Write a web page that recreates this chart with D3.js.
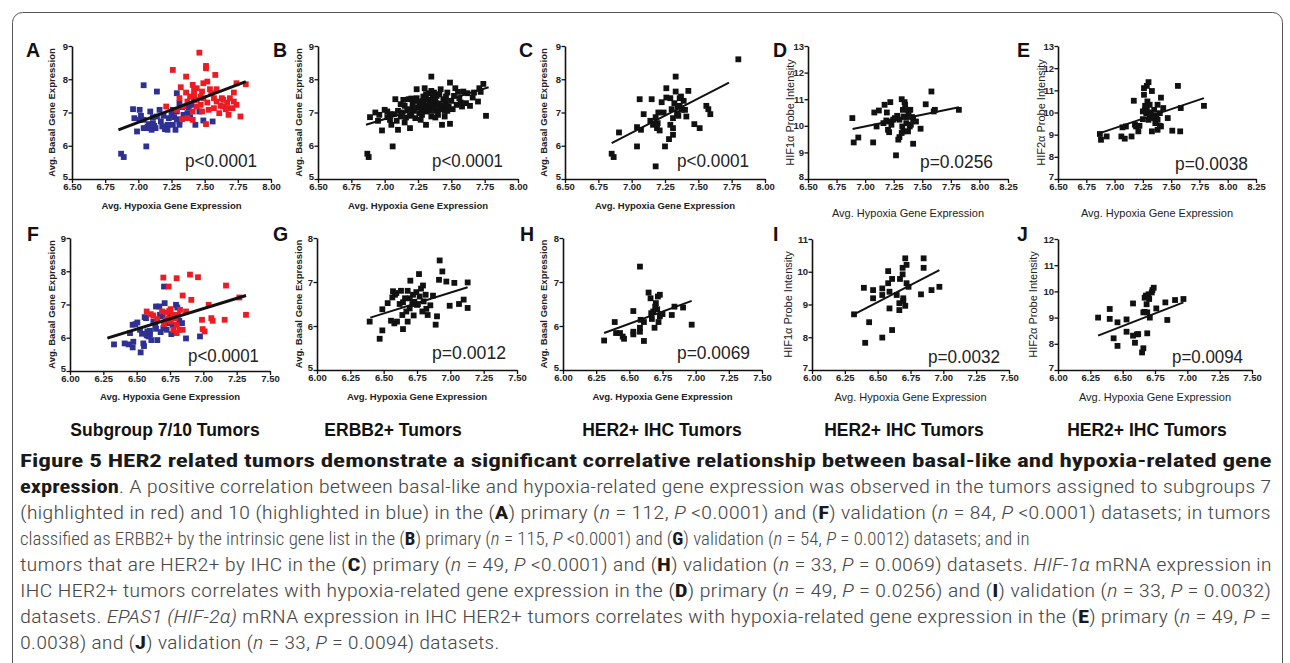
<!DOCTYPE html>
<html>
<head>
<meta charset="utf-8">
<script src="https://cdn.jsdelivr.net/npm/d3@7"></script>
<style>
body { margin: 0; background: #fff; }
svg { display: block; font-family: "Liberation Sans", Arial, sans-serif; }
</style>
</head>
<body>
<svg id="fig" width="1290" height="663"></svg>
<script>
// ---- data ----
var aBlue = [[6.87,5.76],[6.89,5.66],[7.04,7.82],[7.14,7.63],[7.06,5.98],[6.96,7.10],[6.97,6.83],[6.99,6.43],[7.01,7.08],[7.02,6.90],[7.04,6.78],[7.06,6.53],[7.07,6.58],[7.09,7.03],[7.11,6.86],[7.11,6.68],[7.13,6.53],[7.10,6.48],[7.14,6.88],[7.16,7.08],[7.17,6.73],[7.19,6.90],[7.20,6.50],[7.22,6.63],[7.23,6.83],[7.25,6.93],[7.26,7.08],[7.27,6.86],[7.29,6.80],[7.29,7.03],[7.31,6.63],[7.31,7.28],[7.33,7.16],[7.34,6.93],[7.29,7.58],[7.37,6.98],[7.39,6.86],[7.40,7.23],[7.42,7.38],[7.43,6.63],[7.46,7.03],[7.49,6.76],[7.56,6.73],[7.28,6.48],[7.18,6.58],[7.01,6.78],[7.10,6.55],[7.04,6.53],[7.22,6.48],[7.26,6.63],[7.31,6.73],[7.12,6.60],[7.08,6.65],[7.38,7.15]];
var aRed = [[7.46,8.80],[7.26,8.28],[7.51,8.40],[7.51,8.33],[7.36,8.08],[7.58,8.13],[7.32,7.76],[7.36,7.60],[7.41,7.83],[7.42,7.68],[7.44,7.73],[7.48,7.63],[7.49,7.88],[7.52,7.93],[7.54,7.70],[7.47,7.48],[7.39,7.48],[7.42,7.53],[7.44,7.38],[7.49,7.43],[7.52,7.30],[7.55,7.58],[7.57,7.43],[7.59,7.33],[7.62,7.20],[7.64,7.18],[7.67,7.30],[7.71,7.13],[7.74,7.88],[7.72,7.60],[7.74,7.23],[7.72,7.33],[7.66,7.10],[7.63,7.43],[7.77,6.88],[7.51,6.65],[7.37,6.83],[7.41,6.78],[7.33,6.80],[7.29,7.08],[7.34,7.18],[7.21,7.18],[7.44,7.18],[7.48,7.03],[7.53,7.08],[7.57,7.13],[7.61,6.98],[7.67,7.13],[7.37,7.33],[7.31,7.43],[7.64,7.38],[7.59,7.70],[7.69,7.43],[7.81,7.85],[7.68,6.93],[7.47,7.23],[7.41,7.03]];
var bPts = [[6.87,5.76],[6.88,5.66],[7.06,5.98],[6.98,6.46],[6.89,6.86],[6.93,7.00],[6.96,6.93],[7.00,7.08],[7.02,6.86],[7.04,6.78],[7.05,6.63],[7.08,7.40],[7.07,6.95],[7.10,7.05],[7.12,6.88],[7.10,6.48],[7.14,7.38],[7.15,6.70],[7.17,7.10],[7.18,7.40],[7.19,6.53],[7.20,6.95],[7.21,7.28],[7.22,7.05],[7.23,6.83],[7.24,7.70],[7.24,7.43],[7.25,7.15],[7.26,6.98],[7.27,7.33],[7.28,7.10],[7.29,7.48],[7.30,7.73],[7.30,7.20],[7.31,6.63],[7.31,7.03],[7.32,7.38],[7.33,7.58],[7.33,7.13],[7.34,7.28],[7.35,8.08],[7.35,6.88],[7.36,7.45],[7.36,7.20],[7.37,7.60],[7.38,7.05],[7.38,7.35],[7.39,7.50],[7.40,6.93],[7.40,7.25],[7.41,7.55],[7.42,7.70],[7.43,6.63],[7.43,7.15],[7.44,7.40],[7.45,7.05],[7.46,7.28],[7.47,7.60],[7.48,7.18],[7.49,6.66],[7.49,7.90],[7.50,7.35],[7.51,7.10],[7.53,7.73],[7.54,7.23],[7.56,7.43],[7.58,7.18],[7.59,7.63],[7.61,7.28],[7.62,7.58],[7.64,7.20],[7.66,7.45],[7.67,7.60],[7.70,7.33],[7.71,7.73],[7.74,7.86],[7.76,6.90],[7.72,7.62],[7.04,6.95],[7.13,7.00],[7.16,6.85],[7.26,7.25],[7.28,6.93],[7.29,7.35],[7.32,7.20],[7.34,7.05],[7.36,7.35],[7.37,7.15],[7.39,7.28],[7.41,7.10],[7.44,7.22],[7.46,7.48],[7.21,7.15],[7.23,7.35],[7.09,6.75],[7.15,7.20],[7.19,6.90],[7.27,6.78],[7.45,6.88],[7.52,7.50],[7.55,7.62],[7.57,7.30],[7.31,7.55],[7.35,7.65],[7.20,7.42],[7.12,7.25],[7.02,7.03],[6.95,6.75],[7.38,6.85],[7.47,7.05]];
var cPts = [[6.85,5.76],[6.865,5.66],[6.905,6.40],[7.04,5.98],[7.04,6.56],[7.06,7.40],[7.07,6.48],[7.09,6.95],[7.14,6.75],[7.15,7.40],[7.16,6.63],[7.18,6.86],[7.18,5.38],[7.19,6.53],[7.195,6.68],[7.21,6.46],[7.225,7.31],[7.24,7.00],[7.25,5.98],[7.26,7.73],[7.26,7.45],[7.28,6.20],[7.29,6.63],[7.29,7.43],[7.30,7.10],[7.31,6.33],[7.31,6.53],[7.31,6.83],[7.32,7.28],[7.33,8.08],[7.33,7.63],[7.34,6.98],[7.345,7.18],[7.36,7.20],[7.36,7.43],[7.35,6.90],[7.375,7.08],[7.39,7.35],[7.40,7.08],[7.41,6.88],[7.425,7.65],[7.47,6.65],[7.51,6.53],[7.56,7.20],[7.575,7.10],[7.59,6.95],[7.80,8.60],[7.20,7.00],[7.37,7.48]];
var dPts = [[6.888,10.29],[6.90,9.375],[6.94,9.56],[7.07,9.375],[7.08,10.5],[7.10,9.975],[7.12,10.575],[7.17,10.79],[7.185,10.2],[7.19,10.5],[7.21,9.76],[7.22,10.89],[7.23,10.04],[7.21,10.16],[7.26,10.29],[7.27,8.89],[7.28,10.375],[7.30,9.575],[7.32,11.0],[7.325,9.975],[7.33,10.6],[7.335,9.79],[7.345,10.89],[7.35,10.79],[7.36,10.33],[7.375,9.79],[7.38,10.5],[7.39,9.975],[7.395,10.6],[7.42,9.325],[7.42,10.225],[7.485,9.89],[7.53,10.81],[7.58,11.29],[7.60,10.54],[7.82,10.6],[7.335,10.35],[7.29,9.48],[7.245,10.23],[7.36,10.1],[7.40,10.04],[7.445,10.16],[7.32,9.73],[7.375,10.6],[7.20,9.85],[7.30,10.23],[7.41,10.33],[7.16,10.1],[7.61,10.6]];
var ePts = [[6.87,9.03],[6.88,8.77],[6.93,8.92],[7.06,8.92],[7.07,9.33],[7.09,8.82],[7.10,9.37],[7.15,8.92],[7.17,10.53],[7.18,9.45],[7.19,9.37],[7.21,9.15],[7.22,9.40],[7.25,9.70],[7.26,11.1],[7.26,10.8],[7.27,10.3],[7.27,10.12],[7.28,9.97],[7.285,11.2],[7.29,10.5],[7.30,9.67],[7.30,11.37],[7.31,10.35],[7.31,9.82],[7.32,10.0],[7.33,10.97],[7.33,9.15],[7.34,9.75],[7.35,10.12],[7.36,9.52],[7.37,9.79],[7.38,10.35],[7.38,9.67],[7.38,9.22],[7.40,9.40],[7.40,9.97],[7.41,10.67],[7.41,9.37],[7.43,10.2],[7.47,9.75],[7.51,9.18],[7.56,11.2],[7.58,9.15],[7.585,10.2],[7.79,10.3],[7.285,10.12],[7.25,10.05],[7.36,9.85]];
var fBlue = [[6.33,5.80],[6.41,5.83],[6.44,5.80],[6.47,5.71],[6.475,5.88],[6.49,6.41],[6.505,6.46],[6.47,6.39],[6.45,6.14],[6.53,5.56],[6.54,6.12],[6.55,5.83],[6.555,5.75],[6.56,6.62],[6.57,6.59],[6.575,6.07],[6.58,6.19],[6.59,6.04],[6.60,6.21],[6.625,6.49],[6.64,6.37],[6.645,6.27],[6.655,5.93],[6.645,6.94],[6.67,6.94],[6.68,6.17],[6.695,6.64],[6.705,7.54],[6.71,7.04],[6.725,6.24],[6.73,6.44],[6.75,6.72],[6.76,6.11],[6.77,6.39],[6.795,6.99],[6.805,6.91],[6.82,6.51],[6.84,6.44],[6.87,5.98],[6.975,6.04],[6.675,6.69],[6.60,6.11],[6.70,6.29],[6.525,6.24],[6.61,5.93]];
var fRed = [[6.70,7.81],[6.74,7.54],[6.80,7.79],[6.90,7.90],[6.96,7.82],[6.845,7.27],[6.91,7.14],[6.575,6.79],[6.605,6.71],[6.69,6.79],[6.72,6.76],[6.745,6.81],[6.74,6.57],[6.755,6.49],[6.775,6.24],[6.80,6.39],[6.82,6.24],[6.845,6.24],[6.79,6.59],[6.87,6.79],[6.99,6.54],[6.995,6.26],[7.01,6.19],[7.04,6.99],[7.06,6.59],[7.07,6.51],[7.16,6.54],[7.17,7.57],[7.27,7.21],[7.32,6.69],[6.72,6.54],[6.77,6.69],[6.625,6.67],[6.655,6.56],[6.81,6.69],[6.705,6.41],[6.825,6.84],[6.80,6.14],[6.755,6.86]];
var gPts = [[6.395,6.10],[6.47,5.71],[6.49,5.90],[6.49,6.38],[6.555,6.12],[6.565,6.65],[6.57,6.79],[6.585,6.71],[6.595,6.75],[6.58,6.06],[6.60,6.10],[6.62,6.50],[6.63,6.80],[6.64,6.25],[6.645,5.93],[6.66,6.63],[6.67,6.33],[6.68,6.10],[6.695,6.40],[6.70,7.03],[6.715,6.50],[6.725,6.24],[6.73,6.55],[6.745,6.77],[6.75,6.48],[6.765,7.18],[6.77,6.67],[6.78,6.85],[6.79,6.33],[6.795,6.92],[6.80,6.56],[6.815,6.71],[6.83,6.25],[6.85,6.47],[6.87,6.69],[6.89,6.03],[6.90,6.22],[6.92,7.49],[6.915,7.05],[6.94,7.24],[6.97,7.01],[6.995,6.46],[7.03,6.98],[7.065,6.50],[7.10,6.60],[7.13,6.41],[7.13,6.99],[6.695,6.63],[6.757,6.50],[6.645,6.54],[6.68,6.80],[6.53,6.52],[6.82,6.39],[6.72,6.71]];
var hPts = [[6.31,5.67],[6.39,6.09],[6.40,5.84],[6.43,5.84],[6.45,5.76],[6.46,5.71],[6.53,6.34],[6.53,5.87],[6.53,5.81],[6.58,7.35],[6.58,5.96],[6.58,5.87],[6.585,6.14],[6.61,5.66],[6.61,6.09],[6.645,6.76],[6.66,6.63],[6.665,6.29],[6.67,6.16],[6.68,6.33],[6.69,5.96],[6.695,6.44],[6.70,6.52],[6.71,6.38],[6.715,6.67],[6.72,6.09],[6.73,6.22],[6.73,6.71],[6.75,6.27],[6.82,6.25],[6.84,6.44],[6.905,6.42],[6.97,6.03]];
var iPts = [[6.32,8.70],[6.395,9.51],[6.435,8.46],[6.405,7.83],[6.465,9.44],[6.465,9.19],[6.535,9.49],[6.535,9.29],[6.535,7.99],[6.58,10.02],[6.58,9.65],[6.59,8.88],[6.59,9.39],[6.61,9.78],[6.61,8.22],[6.645,9.29],[6.665,8.83],[6.665,9.04],[6.67,9.78],[6.69,10.12],[6.69,9.92],[6.695,9.19],[6.695,9.11],[6.71,10.41],[6.71,8.96],[6.72,10.21],[6.72,9.65],[6.735,9.54],[6.83,9.31],[6.85,10.41],[6.85,10.12],[6.91,9.44],[6.97,9.54]];
var jPts = [[6.31,9.00],[6.40,9.33],[6.40,8.95],[6.43,8.21],[6.46,8.82],[6.46,7.92],[6.53,8.93],[6.53,8.46],[6.58,9.54],[6.58,8.31],[6.595,8.04],[6.61,8.36],[6.62,8.37],[6.65,7.67],[6.66,7.83],[6.66,9.20],[6.67,9.76],[6.68,9.84],[6.685,9.51],[6.69,9.20],[6.69,8.40],[6.70,9.89],[6.705,9.71],[6.71,9.00],[6.725,9.96],[6.73,10.05],[6.74,10.14],[6.76,9.35],[6.83,9.58],[6.845,8.91],[6.905,9.67],[6.97,9.71],[6.67,9.22]];

// regression line end points [x, y]
var fitA = [[6.85,6.48],[7.81,7.93]];
var fitB = [[6.86,6.63],[7.78,7.76]];
var fitC = [[6.85,6.08],[7.73,7.90]];
var fitD = [[6.89,9.88],[7.82,10.70]];
var fitE = [[6.87,9.07],[7.79,10.65]];
var fitF = [[6.28,5.99],[7.32,7.27]];
var fitG = [[6.40,6.19],[7.13,6.88]];
var fitH = [[6.31,5.84],[6.97,6.57]];
var fitI = [[6.32,8.70],[6.97,10.05]];
var fitJ = [[6.31,8.31],[6.97,9.58]];

var pValues = ['p<0.0001','p<0.0001','p<0.0001','p=0.0256','p=0.0038','p<0.0001','p=0.0012','p=0.0069','p=0.0032','p=0.0094'];

// tick labels
var xTicksPrimary = [6.50,6.75,7.00,7.25,7.50,7.75,8.00];
var xTicksProbe1 = [6.50,6.75,7.00,7.25,7.50,7.75,8.00,8.25];
var xTicksValid = [6.00,6.25,6.50,6.75,7.00,7.25,7.50];
var yTicksBasal9 = [5,6,7,8,9];
var yTicksBasal8 = [5,6,7,8];
var yTicksD = [8,9,10,11,12,13];
var yTicksE = [7,8,9,10,11,12,13];
var yTicksI = [7,8,9,10,11];
var yTicksJ = [7,8,9,10,11,12];

var groupTitles = ['Subgroup 7/10 Tumors','ERBB2+ Tumors','HER2+ IHC Tumors','HER2+ IHC Tumors','HER2+ IHC Tumors'];

var RED = '#ec1c24', BLUE = '#2e3192', BLACK = '#111';
var basalLab = 'Avg. Basal Gene Expression', hypLab = 'Avg. Hypoxia Gene Expression';

var panels = [
  {k:'A', sets:[[aBlue,BLUE],[aRed,RED]], fit:fitA, xd:[6.5,8.0], xt:xTicksPrimary, yd:[5,9], yt:yTicksBasal9, x0:72, x1:271, y0:46, y1:179, ylab:basalLab, bold:true, lyx:52, lxy:209, lw:3, L:[26,57], P:[185,72,167]},
  {k:'B', sets:[[bPts,BLACK]], fit:fitB, xd:[6.5,8.0], xt:xTicksPrimary, yd:[5,9], yt:yTicksBasal9, x0:318, x1:518, y0:46, y1:179, ylab:basalLab, bold:true, lyx:299, lxy:209, lw:2, L:[273,57], P:[432,71,167]},
  {k:'C', sets:[[cPts,BLACK]], fit:fitC, xd:[6.5,8.0], xt:xTicksPrimary, yd:[5,9], yt:yTicksBasal9, x0:565, x1:765, y0:46, y1:179, ylab:basalLab, bold:true, lyx:544, lxy:209, lw:2, L:[519,57], P:[677,72,167]},
  {k:'D', sets:[[dPts,BLACK]], fit:fitD, xd:[6.5,8.25], xt:xTicksProbe1, yd:[8,13], yt:yTicksD, x0:808, x1:1008, y0:46, y1:179, ylab:'HIF1\u03b1 Probe Intensity', bold:false, lyx:790, lxy:217, lw:2, L:[773,57], P:[920,73,168]},
  {k:'E', sets:[[ePts,BLACK]], fit:fitE, xd:[6.5,8.25], xt:xTicksProbe1, yd:[7,13], yt:yTicksE, x0:1058, x1:1256, y0:46, y1:179, ylab:'HIF2\u03b1 Probe Intensity', bold:false, lyx:1041, lxy:217, lw:2, L:[1017,57], P:[1175,73,170]},
  {k:'F', sets:[[fBlue,BLUE],[fRed,RED]], fit:fitF, xd:[6.0,7.5], xt:xTicksValid, yd:[5,9], yt:yTicksBasal9, x0:70, x1:270, y0:238, y1:371, ylab:basalLab, bold:true, lyx:52, lxy:400, lw:3, L:[27,241], P:[188,71,362]},
  {k:'G', sets:[[gPts,BLACK]], fit:fitG, xd:[6.0,7.5], xt:xTicksValid, yd:[5,8], yt:yTicksBasal8, x0:317, x1:517, y0:238, y1:370, ylab:basalLab, bold:true, lyx:299, lxy:400, lw:2, L:[273,241], P:[432,74,359]},
  {k:'H', sets:[[hPts,BLACK]], fit:fitH, xd:[6.0,7.5], xt:xTicksValid, yd:[5,8], yt:yTicksBasal8, x0:563, x1:762, y0:238, y1:370, ylab:basalLab, bold:true, lyx:544, lxy:400, lw:2, L:[520,241], P:[677,73,359]},
  {k:'I', sets:[[iPts,BLACK]], fit:fitI, xd:[6.0,7.5], xt:xTicksValid, yd:[7,11], yt:yTicksI, x0:812, x1:1009, y0:239, y1:370, ylab:'HIF1\u03b1 Probe Intensity', bold:false, lyx:788, lxy:401, lw:2, L:[773,241], P:[928,72,363]},
  {k:'J', sets:[[jPts,BLACK]], fit:fitJ, xd:[6.0,7.5], xt:xTicksValid, yd:[7,12], yt:yTicksJ, x0:1058, x1:1252, y0:239, y1:370, ylab:'HIF2\u03b1 Probe Intensity', bold:false, lyx:1033, lxy:401, lw:2, L:[1017,241], P:[1172,71,363]}
];

var svg = d3.select('#fig');

// frame
svg.append('rect')
  .attr('x', 12.5).attr('y', 12.5)
  .attr('width', 1270).attr('height', 720)
  .attr('rx', 10)
  .attr('fill', 'none')
  .attr('stroke', '#555')
  .attr('stroke-width', 1);

panels.forEach(function (p, i) {
  var x = d3.scaleLinear().domain(p.xd).range([p.x0, p.x1]);
  var y = d3.scaleLinear().domain(p.yd).range([p.y1, p.y0]);
  var g = svg.append('g');

  var xAxis = g.append('g')
    .attr('transform', 'translate(0,' + p.y1 + ')')
    .call(d3.axisBottom(x).tickValues(p.xt).tickFormat(d3.format('.2f')).tickSize(4).tickSizeOuter(0).tickPadding(0));
  var yAxis = g.append('g')
    .attr('transform', 'translate(' + p.x0 + ',0)')
    .call(d3.axisLeft(y).tickValues(p.yt).tickFormat(d3.format('d')).tickSize(3.5).tickSizeOuter(0).tickPadding(0.5));

  [xAxis, yAxis].forEach(function (a) {
    a.attr('font-family', null).attr('font-size', null);
    a.select('.domain').attr('stroke', '#111').attr('stroke-width', 1.6);
    a.selectAll('.tick line').attr('stroke', '#111').attr('stroke-width', 1.3);
    a.selectAll('.tick text')
      .style('font-size', '9.5px')
      .style('font-weight', 'bold')
      .attr('fill', '#222');
  });
  // lift the lowest y label a touch so it clears the first x label
  yAxis.selectAll('.tick text').filter(d => d === p.yd[0]).attr('dy', '0.1em');

  // axis titles
  g.append('text')
    .attr('x', (p.x0 + p.x1) / 2)
    .attr('y', p.lxy)
    .attr('text-anchor', 'middle')
    .style('font-size', p.bold ? '9.5px' : '11px')
    .style('font-weight', p.bold ? 'bold' : 'normal')
    .attr('fill', '#222')
    .text(hypLab);

  g.append('text')
    .attr('transform', 'translate(' + p.lyx + ',' + ((p.y0 + p.y1) / 2) + ') rotate(-90)')
    .attr('text-anchor', 'middle')
    .attr('dy', '0.35em')
    .style('font-size', p.bold ? '9.5px' : '11px')
    .style('font-weight', p.bold ? 'bold' : 'normal')
    .attr('fill', '#222')
    .text(p.ylab);

  // points
  var s = 5.8;
  p.sets.forEach(function (set) {
    g.append('g').selectAll('rect')
      .data(set[0])
      .enter()
      .append('rect')
      .attr('x', d => x(d[0]) - s / 2)
      .attr('y', d => y(d[1]) - s / 2)
      .attr('width', s)
      .attr('height', s)
      .attr('fill', set[1]);
  });

  // regression line
  g.append('line')
    .attr('x1', x(p.fit[0][0])).attr('y1', y(p.fit[0][1]))
    .attr('x2', x(p.fit[1][0])).attr('y2', y(p.fit[1][1]))
    .attr('stroke', '#111')
    .attr('stroke-width', p.lw);

  // p value
  g.append('text')
    .attr('x', p.P[0]).attr('y', p.P[2])
    .attr('textLength', p.P[1])
    .attr('lengthAdjust', 'spacingAndGlyphs')
    .style('font-size', '18px')
    .attr('fill', '#222')
    .text(pValues[i]);

  // panel letter
  g.append('text')
    .attr('x', p.L[0]).attr('y', p.L[1])
    .style('font-size', '19.5px')
    .style('font-weight', 'bold')
    .attr('fill', '#111')
    .text(p.k);
});

// group titles under columns
var titleX = [165, 393, 662, 904, 1147];
svg.selectAll('.gtitle')
  .data(groupTitles)
  .enter()
  .append('text')
  .attr('class', 'gtitle')
  .attr('x', (d, i) => titleX[i])
  .attr('y', 436)
  .attr('text-anchor', 'middle')
  .style('font-size', '17.5px')
  .style('font-weight', 'bold')
  .attr('fill', '#111')
  .text(d => d);

// caption, one entry per printed line: [text, style]
var caption = [
  [['Figure 5 HER2 related tumors demonstrate a significant correlative relationship between basal-like and hypoxia-related gene', 'b']],
  [['expression', 'b'], ['. A positive correlation between basal-like and hypoxia-related gene expression was observed in the tumors assigned to subgroups 7', '']],
  [['(highlighted in red) and 10 (highlighted in blue) in the (', ''], ['A', 'b'], [') primary (', ''], ['n', 'i'], [' = 112, ', ''], ['P', 'i'], [' <0.0001) and (', ''], ['F', 'b'], [') validation (', ''], ['n', 'i'], [' = 84, ', ''], ['P', 'i'], [' <0.0001) datasets; in tumors', '']],
  [['classified as ERBB2+ by the intrinsic gene list in the (', ''], ['B', 'b'], [') primary (', ''], ['n', 'i'], [' = 115, ', ''], ['P', 'i'], [' <0.0001) and (', ''], ['G', 'b'], [') validation (', ''], ['n', 'i'], [' = 54, ', ''], ['P', 'i'], [' = 0.0012) datasets; and in', '']],
  [['tumors that are HER2+ by IHC in the (', ''], ['C', 'b'], [') primary (', ''], ['n', 'i'], [' = 49, ', ''], ['P', 'i'], [' <0.0001) and (', ''], ['H', 'b'], [') validation (', ''], ['n', 'i'], [' = 33, ', ''], ['P', 'i'], [' = 0.0069) datasets. ', ''], ['HIF-1\u03b1', 'i'], [' mRNA expression in', '']],
  [['IHC HER2+ tumors correlates with hypoxia-related gene expression in the (', ''], ['D', 'b'], [') primary (', ''], ['n', 'i'], [' = 49, ', ''], ['P', 'i'], [' = 0.0256) and (', ''], ['I', 'b'], [') validation (', ''], ['n', 'i'], [' = 33, ', ''], ['P', 'i'], [' = 0.0032)', '']],
  [['datasets. ', ''], ['EPAS1 (HIF-2\u03b1)', 'i'], [' mRNA expression in IHC HER2+ tumors correlates with hypoxia-related gene expression in the (', ''], ['E', 'b'], [') primary (', ''], ['n', 'i'], [' = 49, ', ''], ['P', 'i'], [' =', '']],
  [['0.0038) and (', ''], ['J', 'b'], [') validation (', ''], ['n', 'i'], [' = 33, ', ''], ['P', 'i'], [' = 0.0094) datasets.', '']]
];
var captionEnds = [1272, 1272, 1272, 1030, 1272, 1272, 1272, 500];

caption.forEach(function (line, i) {
  var t = svg.append('text')
    .attr('x', 0)
    .attr('y', 0)
    .style('font-family', '"Roboto Condensed", "Liberation Sans Narrow", Roboto, "Liberation Sans", sans-serif')
    .style('font-size', '19px');
  line.forEach(function (seg) {
    t.append('tspan')
      .style('font-weight', seg[1] === 'b' ? 'bold' : '300')
      .style('font-style', seg[1] === 'i' ? 'italic' : 'normal')
      .attr('fill', seg[1] === 'b' ? '#1a1a1a' : '#484848')
      .text(seg[0]);
  });
  // squeeze each printed line to the width it has in the figure
  var w = t.node().getComputedTextLength();
  var sx = (captionEnds[i] - 20) / w;
  t.attr('transform', 'translate(20,' + (467 + i * 26) + ') scale(' + sx + ',1)');
});
</script>
</body>
</html>
